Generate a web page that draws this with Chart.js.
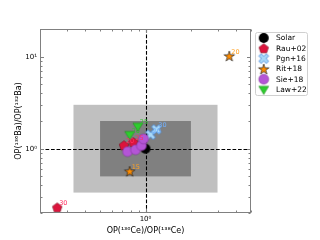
<!DOCTYPE html>
<html><head><meta charset="utf-8">
<script src="https://cdn.jsdelivr.net/npm/chart.js@4/dist/chart.umd.min.js"></script>
<style>html,body{margin:0;padding:0;background:#fff}canvas{display:block}</style>
</head><body>
<canvas id="c" width="320" height="240"></canvas>
<script>
// ---- data ----
const seriesNames = ['Solar','Rau+02','Pgn+16','Rit+18','Sie+18','Law+22'];
const solarX = [1],                      solarY = [1],                     solarLabels = [''];
const rauX   = [0.72, 0.83, 0.26],       rauY   = [1.09, 1.18, 0.23],      rauLabels   = ['20','25','30'];
const pgnX   = [1.08, 1.18],             pgnY   = [1.42, 1.62],            pgnLabels   = ['20','30'];
const ritX   = [3.59, 0.785],            ritY   = [10.2, 0.57],            ritLabels   = ['20','15'];
const sieX   = [0.76, 0.86, 0.94, 0.97], sieY   = [0.93, 0.975, 1.08, 1.28], sieLabels = ['','','',''];
const lawX   = [0.89, 0.785],            lawY   = [1.75, 1.42],            lawLabels   = ['25','20'];
const xTickValues = [1],    xTickLabels = ['10⁰'];
const yTickValues = [1,10], yTickLabels = ['10⁰','10¹'];
const xRange = [0.2, 5], yRange = [0.2, 20];
const lightBox = [1/3, 3], darkBox = [0.5, 2];
const refX = 1, refY = 1;
const xTitle = 'OP(¹³⁶Ce)/OP(¹³⁸Ce)';
const yTitle = 'OP(¹³⁶Ba)/OP(¹³²Ba)';

const FONT = "'DejaVu Sans', sans-serif";

function marker(shape, size, fill, stroke, lw){
  const pad = 2, c = document.createElement('canvas');
  c.width = c.height = size + pad*2;
  const g = c.getContext('2d'); const r = size/2, cx = c.width/2, cy = c.height/2;
  g.beginPath();
  if (shape === 'circle') { g.arc(cx, cy, r, 0, Math.PI*2); }
  else if (shape === 'pentagon') {
    for (let i=0;i<5;i++){const a=-Math.PI/2+i*2*Math.PI/5; g.lineTo(cx+r*Math.cos(a), cy+r*Math.sin(a)+0.5);} g.closePath();
  } else if (shape === 'star') {
    for (let i=0;i<10;i++){const a=-Math.PI/2+i*Math.PI/5; const rr=i%2?r*0.42:r*1.1; g.lineTo(cx+rr*Math.cos(a), cy+rr*Math.sin(a)+0.6);} g.closePath();
  } else if (shape === 'tri_down') {
    g.moveTo(cx-r, cy-r*0.65); g.lineTo(cx+r, cy-r*0.65); g.lineTo(cx, cy+r); g.closePath();
  } else if (shape === 'X') {
    const w = r*0.33, R = r*1.05;
    const p = [[-w,-R],[w,-R],[w,-w],[R,-w],[R,w],[w,w],[w,R],[-w,R],[-w,w],[-R,w],[-R,-w],[-w,-w]];
    const ca = Math.cos(Math.PI/4), sa = Math.sin(Math.PI/4);
    p.forEach(([x,y],i)=>{ const X=x*ca-y*sa, Y=x*sa+y*ca; i?g.lineTo(cx+X,cy+Y):g.moveTo(cx+X,cy+Y); });
    g.closePath();
  }
  g.fillStyle = fill; g.fill();
  if (stroke) { g.lineWidth = lw; g.strokeStyle = stroke; g.stroke(); }
  return c;
}

const styles = [
  {m: marker('circle', 10, '#000000', null, 0), label: '#000'},
  {m: marker('pentagon', 10, '#dc143c', '#7a0a1e', 0.6), label: '#ff3060'},
  {m: marker('X', 10, '#a8d8f8', '#3a7fd8', 0.8), label: '#70b0ff'},
  {m: marker('star', 10, '#ff8c00', '#202020', 0.7), label: '#ffa020'},
  {m: marker('circle', 10, '#b455d6', '#7a3090', 0.5), label: '#b455d6'},
  {m: marker('tri_down', 10, '#2ecc2e', '#1a801a', 0.5), label: '#30c030'}
];
const xs = [solarX, rauX, pgnX, ritX, sieX, lawX];
const ys = [solarY, rauY, pgnY, ritY, sieY, lawY];
const lbs = [solarLabels, rauLabels, pgnLabels, ritLabels, sieLabels, lawLabels];

const datasets = seriesNames.map((n, i) => ({
  label: n,
  data: xs[i].map((x, j) => ({x: x, y: ys[i][j]})),
  pointStyle: styles[i].m,
  pointLabels: lbs[i],
  labelColor: styles[i].label,
  order: seriesNames.length - i,
  showLine: false
}));

const decor = {
  id: 'decor',
  beforeDatasetsDraw(chart) {
    const {ctx, chartArea: a, scales: {x, y}} = chart;
    ctx.save();
    ctx.beginPath(); ctx.rect(a.left, a.top, a.right-a.left, a.bottom-a.top); ctx.clip();
    const box = (b, col) => {
      const x0 = x.getPixelForValue(b[0]), x1 = x.getPixelForValue(b[1]);
      const y0 = y.getPixelForValue(b[1]), y1 = y.getPixelForValue(b[0]);
      ctx.fillStyle = col; ctx.fillRect(x0, y0, x1-x0, y1-y0);
    };
    box(lightBox, '#c0c0c0');
    box(darkBox, '#808080');
    ctx.strokeStyle = '#000'; ctx.lineWidth = 1.1; ctx.setLineDash([3.7, 1.8]);
    const px = Math.round(x.getPixelForValue(refX)) + 0.5;
    const py = Math.round(y.getPixelForValue(refY)) + 0.5;
    ctx.beginPath(); ctx.moveTo(px, a.top); ctx.lineTo(px, a.bottom); ctx.stroke();
    ctx.beginPath(); ctx.moveTo(a.left, py); ctx.lineTo(a.right, py); ctx.stroke();
    ctx.restore();
  },
  afterDatasetsDraw(chart) {
    const {ctx} = chart;
    ctx.save();
    ctx.font = '6.5px ' + FONT; ctx.textAlign = 'left'; ctx.textBaseline = 'alphabetic';
    chart.data.datasets.forEach((ds, i) => {
      const meta = chart.getDatasetMeta(i);
      ctx.fillStyle = ds.labelColor;
      meta.data.forEach((el, j) => {
        const t = ds.pointLabels[j]; if (!t) return;
        ctx.fillText(t, el.x + 2, el.y - 2);
      });
    });
    ctx.restore();
  },
  afterDraw(chart) {
    const {ctx, chartArea: a, scales: {x, y}} = chart;
    ctx.save();
    ctx.strokeStyle = '#808080'; ctx.lineWidth = 1;
    const L = a.left + 0.5, R = a.right - 0.5, T = a.top + 0.5, B = a.bottom - 0.5;
    ctx.strokeRect(L, T, R-L, B-T);
    const logTicks = (lo, hi) => {
      const out = [];
      for (let e = Math.floor(Math.log10(lo)); e <= Math.ceil(Math.log10(hi)); e++)
        for (let k = 1; k <= 9; k++) { const v = k * Math.pow(10, e); if (v >= lo*0.999 && v <= hi*1.001) out.push({v, major: k === 1}); }
      return out;
    };
    ctx.beginPath();
    logTicks(xRange[0], xRange[1]).forEach(t => {
      const p = Math.round(x.getPixelForValue(t.v)) + 0.5, len = t.major ? 3.5 : 2;
      ctx.moveTo(p, B); ctx.lineTo(p, B - len); ctx.moveTo(p, T); ctx.lineTo(p, T + len);
    });
    logTicks(yRange[0], yRange[1]).forEach(t => {
      const p = Math.round(y.getPixelForValue(t.v)) + 0.5, len = t.major ? 3.5 : 2;
      ctx.moveTo(L, p); ctx.lineTo(L + len, p); ctx.moveTo(R, p); ctx.lineTo(R - len, p);
    });
    ctx.stroke();
    // legend
    const lx = 255, ly = 32, lw = 52, lh = 63;
    ctx.fillStyle = '#fff'; ctx.strokeStyle = '#d0d0d0'; ctx.lineWidth = 1;
    ctx.beginPath(); ctx.roundRect(lx + 0.5, ly + 0.5, lw, lh, 2); ctx.fill(); ctx.stroke();
    ctx.font = '7.5px ' + FONT; ctx.textBaseline = 'middle'; ctx.textAlign = 'left'; ctx.fillStyle = '#000';
    seriesNames.forEach((n, i) => {
      const yy = 38 + i * 10.3;
      const m = styles[i].m;
      ctx.drawImage(m, 263.7 - m.width/2, yy - m.height/2);
      ctx.fillStyle = '#000';
      ctx.fillText(n, 276, yy + 0.5);
    });
    ctx.restore();
  }
};

new Chart(document.getElementById('c'), {
  type: 'scatter',
  data: {datasets},
  options: {
    responsive: false, animation: false, devicePixelRatio: 1,
    layout: {padding: {left: 0, top: 29, right: 69, bottom: 0}},
    plugins: {legend: {display: false}, tooltip: {enabled: false}},
    elements: {point: {radius: 5}},
    scales: {
      x: {
        type: 'logarithmic', min: xRange[0], max: xRange[1],
        grid: {display: false, drawTicks: false}, border: {display: false},
        afterBuildTicks: s => { s.ticks = xTickValues.map(v => ({value: v})); },
        afterFit: s => { s.height = 27; },
        ticks: {autoSkip: false, maxRotation: 0, padding: 2, color: '#000', font: {family: FONT, size: 7},
                callback: v => { const i = xTickValues.indexOf(v); return i >= 0 ? xTickLabels[i] : ''; }},
        title: {display: true, text: xTitle, color: '#000', font: {family: FONT, size: 8}, padding: {top: 0, bottom: 4.5}}
      },
      y: {
        type: 'logarithmic', min: yRange[0], max: yRange[1],
        grid: {display: false, drawTicks: false}, border: {display: false},
        afterBuildTicks: s => { s.ticks = yTickValues.map(v => ({value: v})); },
        afterFit: s => { s.width = 40; },
        ticks: {autoSkip: false, padding: 3, color: '#000', font: {family: FONT, size: 7},
                callback: v => { const i = yTickValues.indexOf(v); return i >= 0 ? yTickLabels[i] : ''; }},
        title: {display: true, text: yTitle, color: '#000', font: {family: FONT, size: 8}, padding: {top: 14, bottom: 0}}
      }
    }
  },
  plugins: [decor]
});
</script>
</body></html>
